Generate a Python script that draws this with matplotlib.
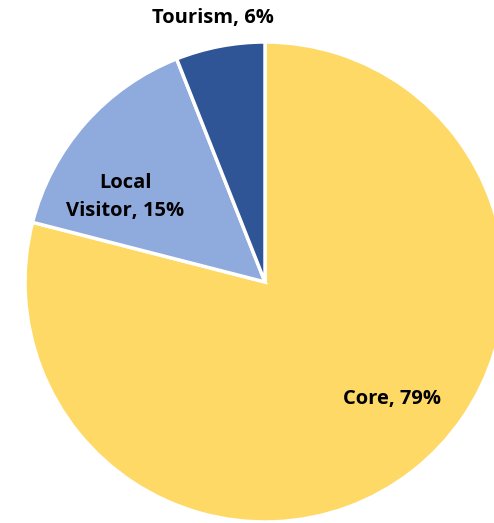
import matplotlib
matplotlib.use("Agg")
import matplotlib.pyplot as plt

segments = ["Core", "Local\nVisitor", "Tourism"]
shares = [79, 15, 6]
colours = ["#FFD966", "#8FAADC", "#2F5597"]

fig = plt.figure(figsize=(4.94, 5.23), dpi=100)
ax = fig.add_axes([0, 0, 1, 1])

wedges, _ = ax.pie(shares, colors=colours, startangle=90, counterclock=False,
                   radius=1.0, center=(0, 0),
                   wedgeprops=dict(edgecolor="white", linewidth=2.5))

# pie of radius 1 drawn at 240 px, centred at (265, 282) from the top-left
ax.set_xlim(-265 / 240, 229 / 240)
ax.set_ylim(-241 / 240, 282 / 240)
ax.set_aspect("equal")
ax.axis("off")

label_pos = [(0.529, -0.4875), (-0.583, 0.355), (-0.217, 1.10)]
for name, val, (x, y) in zip(segments, shares, label_pos):
    ax.text(x, y, f"{name}, {val}%", ha="center", va="center",
            fontsize=14.5, fontweight="bold", family="Open Sans",
            color="black", linespacing=1.55)

fig.savefig("out.png", dpi=100)
